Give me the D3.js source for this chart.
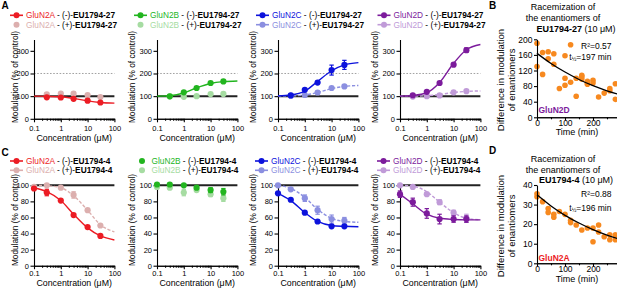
<!DOCTYPE html>
<html>
<head>
<meta charset="utf-8">
<script src="https://cdn.jsdelivr.net/npm/d3@7"></script>
<style>
  body { margin: 0; background: #fff; }
  svg { font-family: "Liberation Sans", Arial, sans-serif; }
</style>
</head>
<body>
<svg id="chart" width="617" height="290"></svg>
<script>
// ---- data ----
const concTop = [0.3, 1, 3, 10, 30];
const concBottom = [0.1, 0.3, 1, 3, 10, 30];
const fitConc = [0.1, 0.3, 1, 3, 10, 30, 100];

// A: EU1794-27, modulation (% of control)
const n2aMinus27 = [95, 94, 88, 80, 72];
const n2aPlus27 = [108, 111, 111, 105, 96];
const n2bMinus27 = [99, 117, 136, 158, 165];
const n2bPlus27 = [99, 97, 100, 109, 110];
const n2cMinus27 = [103, 128, 160, 215, 238];
const n2cMinus27Err = [0, 0, 0, 22, 20];
const n2cPlus27 = [102, 105, 116, 136, 143];
const n2dMinus27 = [104, 119, 158, 239, 303];
const n2dMinus27Err = [0, 0, 0, 0, 10];
const n2dPlus27 = [98, 100, 103, 117, 122];

// fitted curves of panel A, read at fitConc
const n2aMinus27Fit = [100, 99, 97, 90, 79, 72, 69];
const n2bMinus27Fit = [100, 102, 114, 137, 156, 164, 167];
const n2cMinus27Fit = [101, 105, 122, 165, 212, 238, 248];
const n2cPlus27Fit = [100, 101, 105, 116, 133, 143, 147];
const n2dMinus27Fit = [100, 103, 115, 160, 245, 305, 328];
const n2dPlus27Fit = [100, 100, 102, 107, 116, 121, 123];

// C: EU1794-4, modulation (% of control)
const n2aMinus4 = [96, 91, 81, 63, 48, 37];
const n2aMinus4Err = [0, 4, 0, 0, 0, 0];
const n2aPlus4 = [98, 100, 97, 88, 69, 50];
const n2aPlus4Err = [0, 0, 0, 4, 0, 0];
const n2bMinus4 = [101, 101, 100, 97, 94, 92];
const n2bMinus4Err = [0, 0, 0, 0, 3, 4];
const n2bPlus4 = [98, 97, 91, 94, 89, 84];
const n2bPlus4Err = [0, 0, 4, 0, 3, 4];
const n2cMinus4 = [90, 82, 66, 55, 49, 49];
const n2cPlus4 = [100, 95, 84, 69, 58, 56];
const n2cPlus4Err = [0, 0, 4, 5, 5, 4];
const n2dMinus4 = [89, 79, 65, 58, 58, 58];
const n2dMinus4Err = [4, 5, 6, 6, 4, 4];
const n2dPlus4 = [100, 98, 89, 79, 66, 59];
const n2dPlus4Err = [0, 0, 0, 3, 3, 5];

// fitted curves of panel C, read at fitConc
const n2aMinus4Fit = [97, 92, 81, 64, 47, 37, 32];
const n2aPlus4Fit = [100, 99.5, 97, 87, 69, 51, 42];
const n2cMinus4Fit = [90, 81, 66, 55, 50, 49, 48.5];
const n2cPlus4Fit = [100, 96, 85, 70, 59, 55, 54];
const n2dMinus4Fit = [89, 77, 64, 59, 57.5, 57, 57];
const n2dPlus4Fit = [100, 99, 92, 79, 66, 59, 57];

// B: racemization EU1794-27 on GluN2D
const racTime27 = [0, 0, 20, 20, 40, 40, 60, 60, 80, 100, 100, 100, 120, 120, 140, 140, 160, 160, 160, 180, 180, 180, 200, 200, 220, 240, 260, 260, 280, 280];
const racDiff27 = [190, 130, 166, 110, 168, 150, 163, 136, 74, 158, 100, 82, 186, 90, 100, 54, 108, 104, 98, 92, 85, 88, 95, 88, 52, 62, 74, 68, 86, 46];
const racFitTime = [0, 50, 100, 150, 200, 250, 300];
const racFit27 = [164, 138, 116, 97, 81, 68, 57];

// D: racemization EU1794-4 on GluN2A
const racTime4 = [0, 0, 20, 40, 40, 60, 60, 80, 100, 120, 120, 140, 160, 180, 200, 200, 220, 220, 240, 260, 260, 280, 280];
const racDiff4 = [35.5, 34, 31.5, 28, 26, 25, 23.5, 26.5, 25, 22, 20.8, 19.6, 17, 18, 18, 11, 19.6, 16, 13.6, 14.5, 12, 14.5, 12];
const racFit4 = [35, 29.3, 24.5, 20.6, 17.2, 14.4, 12.1];

const subunits = ['GluN2A', 'GluN2B', 'GluN2C', 'GluN2D'];

// ---- colours ----
const colMinus = ['#ec1c24', '#22b51f', '#0c12dc', '#7c1b9c'];
const colPlus = ['#dcafae', '#a6dca2', '#8b8fe0', '#c09bd8'];
const orange = '#f7891f';

// ---- layout ----
const svg = d3.select('#chart');
const panelX = [34, 157, 278, 400];
const logW = 80.4;
const yTitleX = [18, 135, 256, 378];
const majorTicks = [0.1, 1, 10, 100];
const minorTicks = [0.1, 1, 10].flatMap(b => d3.range(2, 10).map(k => b * k));

const rows = [
  {
    compound: 'EU1794-27', conc: concTop, yMax: 350, ticks: [0, 100, 200, 300],
    yBase: 118.8, yTop: 39.5, dotted: true, tickPad: 3, titleY: 140.5, yTitleMid: 77,
    legendY: [18.3, 27.7], legendX: [26, 150, 272, 393.5],
    series: [
      { minus: { vals: n2aMinus27, fit: n2aMinus27Fit }, plus: { vals: n2aPlus27 } },
      { minus: { vals: n2bMinus27, fit: n2bMinus27Fit }, plus: { vals: n2bPlus27 } },
      { minus: { vals: n2cMinus27, err: n2cMinus27Err, fit: n2cMinus27Fit }, plus: { vals: n2cPlus27, fit: n2cPlus27Fit } },
      { minus: { vals: n2dMinus27, err: n2dMinus27Err, fit: n2dMinus27Fit }, plus: { vals: n2dPlus27, fit: n2dPlus27Fit } }
    ]
  },
  {
    compound: 'EU1794-4', conc: concBottom, yMax: 100, ticks: [0, 20, 40, 60, 80, 100],
    yBase: 265.7, yTop: 185.3, dotted: false, tickPad: 1.5, titleY: 286, yTitleMid: 220,
    legendY: [164, 173.3], legendX: [26, 151.5, 271, 393],
    series: [
      { minus: { vals: n2aMinus4, err: n2aMinus4Err, fit: n2aMinus4Fit }, plus: { vals: n2aPlus4, err: n2aPlus4Err, fit: n2aPlus4Fit } },
      { minus: { vals: n2bMinus4, err: n2bMinus4Err }, plus: { vals: n2bPlus4, err: n2bPlus4Err } },
      { minus: { vals: n2cMinus4, fit: n2cMinus4Fit }, plus: { vals: n2cPlus4, err: n2cPlus4Err, fit: n2cPlus4Fit } },
      { minus: { vals: n2dMinus4, err: n2dMinus4Err, fit: n2dMinus4Fit }, plus: { vals: n2dPlus4, err: n2dPlus4Err, fit: n2dPlus4Fit } }
    ]
  }
];

function styleAxis(sel, size) {
  sel.attr('font-family', null).attr('font-size', size);
  sel.selectAll('path, line').attr('stroke', '#000').attr('stroke-width', 1.1);
  sel.selectAll('text').attr('fill', '#000');
}

function drawLegendEntry(x, y, color, withLine, name, tag, compound) {
  const g = svg.append('g');
  if (withLine) {
    g.append('line')
      .attr('x1', x - 16).attr('x2', x - 3).attr('y1', y - 3).attr('y2', y - 3)
      .attr('stroke', color).attr('stroke-width', 1.6);
  }
  g.append('circle').attr('cx', x - 9.5).attr('cy', y - 3).attr('r', 3).attr('fill', color);
  const t = g.append('text').attr('x', x).attr('y', y).attr('font-size', 8.3);
  t.append('tspan').attr('fill', color).text(name);
  t.append('tspan').attr('fill', '#000').text(' - ' + tag + '-');
  t.append('tspan').attr('fill', '#000').attr('font-weight', 'bold').text(compound);
}

function drawDoseRow(row) {
  row.series.forEach((p, i) => {
    const x0 = panelX[i];
    const x = d3.scaleLog().domain([0.1, 100]).range([x0, x0 + logW]);
    const y = d3.scaleLinear().domain([0, row.yMax]).range([row.yBase, row.yTop]);
    const g = svg.append('g');

    // reference lines
    if (row.dotted) {
      g.append('line')
        .attr('x1', x(0.1)).attr('x2', x(100)).attr('y1', y(200)).attr('y2', y(200))
        .attr('stroke', '#8a8a8a').attr('stroke-width', 0.8).attr('stroke-dasharray', '1.6,1.6');
    }
    g.append('line')
      .attr('x1', x(0.1)).attr('x2', x(100)).attr('y1', y(100)).attr('y2', y(100))
      .attr('stroke', '#222').attr('stroke-width', 2);

    // axes
    const xMinor = g.append('g').attr('transform', `translate(0,${row.yBase})`)
      .call(d3.axisBottom(x).tickValues(minorTicks).tickFormat('').tickSize(2).tickSizeOuter(0));
    styleAxis(xMinor, 7.5);
    const xAxis = g.append('g').attr('transform', `translate(0,${row.yBase})`)
      .call(d3.axisBottom(x).tickValues(majorTicks).tickFormat(d => d < 1 ? '0.1' : String(d))
        .tickSize(3.5).tickSizeOuter(0).tickPadding(row.tickPad));
    styleAxis(xAxis, 7.5);
    const yAxis = g.append('g').attr('transform', `translate(${x0},0)`)
      .call(d3.axisLeft(y).tickValues(row.ticks).tickSize(3.5).tickSizeOuter(0).tickPadding(1.5));
    styleAxis(yAxis, 7.5);

    g.append('text')
      .attr('x', x0 + logW / 2).attr('y', row.titleY)
      .attr('text-anchor', 'middle').attr('font-size', 8.8)
      .text('Concentration (μM)');
    g.append('text')
      .attr('transform', `translate(${yTitleX[i]},${row.yTitleMid}) rotate(-90)`)
      .attr('text-anchor', 'middle').attr('font-size', 8.3)
      .text('Modulation (% of control)');

    const line = d3.line().x(d => x(d[0])).y(d => y(d[1])).curve(d3.curveMonotoneX);

    [['plus', colPlus[i]], ['minus', colMinus[i]]].forEach(([key, color]) => {
      const s = p[key];
      if (s.fit) {
        g.append('path')
          .datum(fitConc.map((c, k) => [c, s.fit[k]]))
          .attr('d', line)
          .attr('fill', 'none')
          .attr('stroke', color)
          .attr('stroke-width', 1.4)
          .attr('stroke-dasharray', key === 'plus' ? '3.2,1.8' : null);
      }
      const pts = row.conc.map((c, k) => ({ c, v: s.vals[k], e: s.err ? s.err[k] : 0 }));
      const eb = pts.filter(d => d.e > 0);
      g.selectAll(null).data(eb).join('line')
        .attr('x1', d => x(d.c)).attr('x2', d => x(d.c))
        .attr('y1', d => y(d.v - d.e)).attr('y2', d => y(d.v + d.e))
        .attr('stroke', color).attr('stroke-width', 1.2);
      ['-', '+'].forEach(sign => {
        g.selectAll(null).data(eb).join('line')
          .attr('x1', d => x(d.c) - 2.2).attr('x2', d => x(d.c) + 2.2)
          .attr('y1', d => y(sign === '+' ? d.v + d.e : d.v - d.e))
          .attr('y2', d => y(sign === '+' ? d.v + d.e : d.v - d.e))
          .attr('stroke', color).attr('stroke-width', 1.2);
      });
      g.selectAll(null).data(pts).join('circle')
        .attr('cx', d => x(d.c)).attr('cy', d => y(d.v))
        .attr('r', 3.1).attr('fill', color);
    });

    // legend
    const lx = row.legendX[i];
    drawLegendEntry(lx, row.legendY[0], colMinus[i], !!p.minus.fit, subunits[i], '(-)', row.compound);
    drawLegendEntry(lx, row.legendY[1], colPlus[i], !!p.plus.fit, subunits[i], '(+)', row.compound);
  });
}

rows.forEach(drawDoseRow);

// ---- racemization panels ----
const scatterPanels = [
  {
    time: racTime27, diff: racDiff27, fit: racFit27, yMax: 200, ticks: [0, 40, 80, 120, 160, 200],
    yBase: 117.3, yTop: 39.3, titleY: [10, 20.5, 32], compound: 'EU1794-27',
    r2: 'R²=0.57', half: '=197 min', statY: [48.5, 59.5],
    tag: 'GluN2D', tagColor: colMinus[3], tagY: 113, tickY: 125.5, xTitleY: 134.5, yTitleMid: 80
  },
  {
    time: racTime4, diff: racDiff4, fit: racFit4, yMax: 40, ticks: [0, 10, 20, 30, 40],
    yBase: 263.3, yTop: 185, titleY: [162, 172.5, 183], compound: 'EU1794-4',
    r2: 'R²=0.88', half: '=196 min', statY: [197, 210.5],
    tag: 'GluN2A', tagColor: colMinus[0], tagY: 261, tickY: 272, xTitleY: 281.5, yTitleMid: 226
  }
];

scatterPanels.forEach(sp => {
  const x = d3.scaleLinear().domain([0, 300]).range([537, 621]);
  const y = d3.scaleLinear().domain([0, sp.yMax]).range([sp.yBase, sp.yTop]);
  const g = svg.append('g');

  g.selectAll(null).data(sp.time.map((t, k) => [t, sp.diff[k]])).join('circle')
    .attr('cx', d => x(d[0])).attr('cy', d => y(d[1]))
    .attr('r', 2.8).attr('fill', orange);

  g.append('path')
    .datum(racFitTime.map((t, k) => [t, sp.fit[k]]))
    .attr('d', d3.line().x(d => x(d[0])).y(d => y(d[1])).curve(d3.curveMonotoneX))
    .attr('fill', 'none').attr('stroke', '#000').attr('stroke-width', 1.3);

  const xMinor = g.append('g').attr('transform', `translate(0,${sp.yBase})`)
    .call(d3.axisBottom(x).tickValues([50, 150, 250]).tickFormat('').tickSize(2).tickSizeOuter(0));
  styleAxis(xMinor, 8.5);
  const xAxis = g.append('g').attr('transform', `translate(0,${sp.yBase})`)
    .call(d3.axisBottom(x).tickValues([0, 100, 200]).tickSize(3).tickSizeOuter(0).tickPadding(1.5));
  styleAxis(xAxis, 8.5);
  xAxis.selectAll('text').attr('y', null).attr('dy', null)
    .attr('transform', `translate(0,${sp.tickY - sp.yBase})`);
  const yAxis = g.append('g').attr('transform', 'translate(537,0)')
    .call(d3.axisLeft(y).tickValues(sp.ticks).tickSize(3).tickSizeOuter(0).tickPadding(1.5));
  styleAxis(yAxis, 8.5);

  g.append('text').attr('x', 577).attr('y', sp.xTitleY)
    .attr('text-anchor', 'middle').attr('font-size', 9).text('Time (min)');
  g.append('text').attr('transform', `translate(503.5,${sp.yTitleMid}) rotate(-90)`)
    .attr('text-anchor', 'middle').attr('font-size', 9.5).text('Difference in modulation');
  g.append('text').attr('transform', `translate(515,${sp.yTitleMid}) rotate(-90)`)
    .attr('text-anchor', 'middle').attr('font-size', 9.5).text('of enantiomers');

  g.append('text').attr('x', 563).attr('y', sp.titleY[0])
    .attr('text-anchor', 'middle').attr('font-size', 9).text('Racemization of');
  g.append('text').attr('x', 563).attr('y', sp.titleY[1])
    .attr('text-anchor', 'middle').attr('font-size', 9).text('the enantiomers of');
  const t3 = g.append('text').attr('x', 576).attr('y', sp.titleY[2])
    .attr('text-anchor', 'middle').attr('font-size', 9);
  t3.append('tspan').attr('font-weight', 'bold').text(sp.compound);
  t3.append('tspan').text(' (10 μM)');

  g.append('text').attr('x', 611.5).attr('y', sp.statY[0])
    .attr('text-anchor', 'end').attr('font-size', 8.5).text(sp.r2);
  const th = g.append('text').attr('x', 611.5).attr('y', sp.statY[1])
    .attr('text-anchor', 'end').attr('font-size', 8.5);
  th.append('tspan').text('t');
  th.append('tspan').attr('font-size', 5.5).attr('dy', 1.8).text('½');
  th.append('tspan').attr('dy', -1.8).text(sp.half);

  g.append('text').attr('x', 538.5).attr('y', sp.tagY)
    .attr('font-size', 8.5).attr('font-weight', 'bold').attr('fill', sp.tagColor).text(sp.tag);
});

// ---- panel letters ----
const panelLetters = [['A', 1.5, 9], ['B', 489, 9], ['C', 1.5, 156], ['D', 489, 154]];
svg.selectAll(null).data(panelLetters).join('text')
  .attr('x', d => d[1]).attr('y', d => d[2])
  .attr('font-size', 10).attr('font-weight', 'bold')
  .text(d => d[0]);
</script>
</body>
</html>
